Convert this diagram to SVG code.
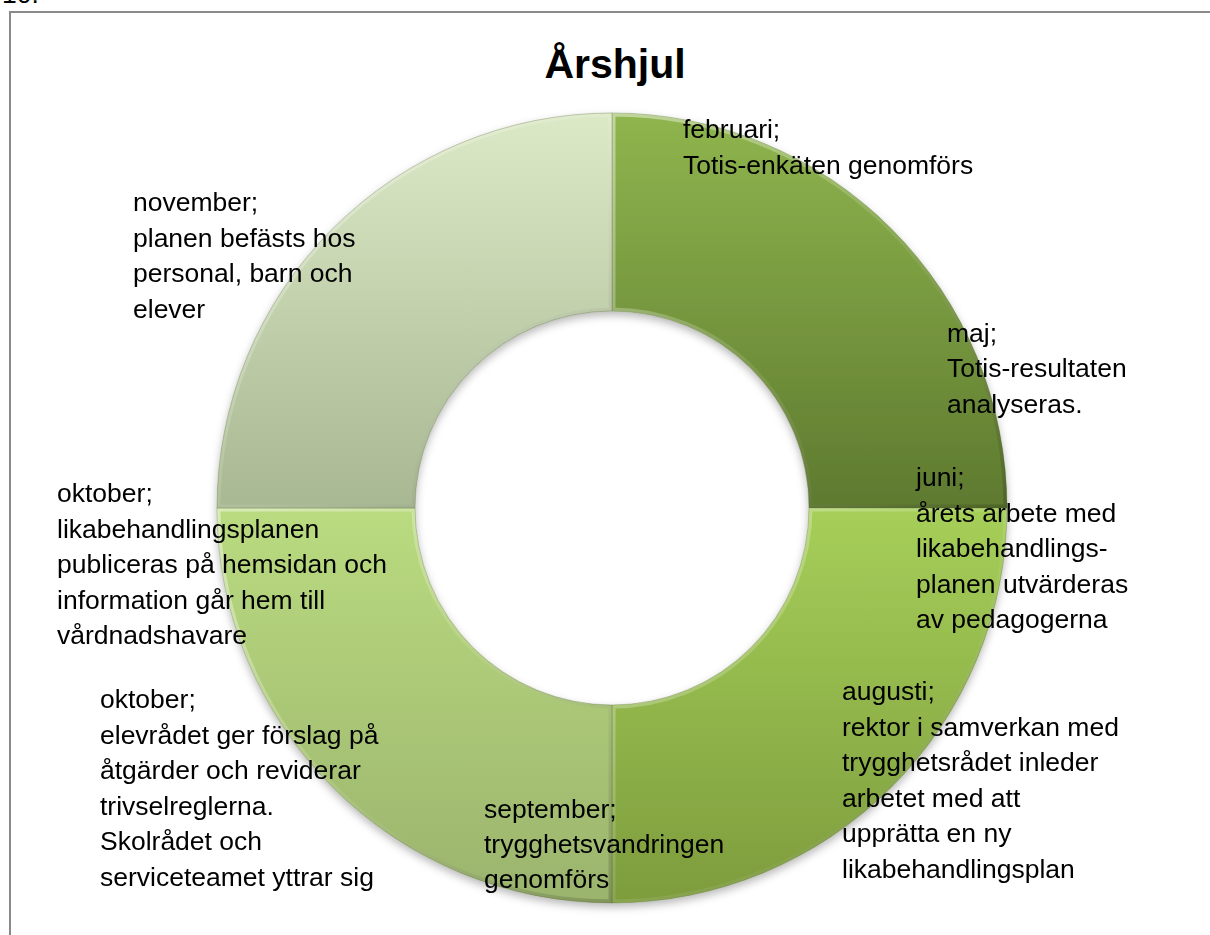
<svg xmlns="http://www.w3.org/2000/svg" width="1210" height="935" viewBox="0 0 1210 935">
<style>
.t{font-family:"Liberation Sans",Arial,sans-serif;font-size:26.5px;fill:#000}
.title{font-family:"Liberation Sans",Arial,sans-serif;font-size:41px;font-weight:bold;fill:#000}
.seg{stroke:#4f6328;stroke-opacity:0.35;stroke-width:1}
.bev{fill:none;stroke:url(#bevel);stroke-width:7}
</style>
<defs>
<linearGradient id="gTR" x1="0" y1="113" x2="0" y2="508" gradientUnits="userSpaceOnUse">
<stop offset="0" stop-color="#8fb54e"/><stop offset="1" stop-color="#5e7a2f"/>
</linearGradient>
<linearGradient id="gBR" x1="0" y1="508" x2="0" y2="903" gradientUnits="userSpaceOnUse">
<stop offset="0" stop-color="#a6cf59"/><stop offset="1" stop-color="#7d9c3d"/>
</linearGradient>
<linearGradient id="gBL" x1="0" y1="508" x2="0" y2="903" gradientUnits="userSpaceOnUse">
<stop offset="0" stop-color="#badb80"/><stop offset="1" stop-color="#9bb46d"/>
</linearGradient>
<linearGradient id="gTL" x1="0" y1="113" x2="0" y2="508" gradientUnits="userSpaceOnUse">
<stop offset="0" stop-color="#dce9c7"/><stop offset="1" stop-color="#a8b892"/>
</linearGradient>
<linearGradient id="bevel" x1="0" y1="0" x2="1" y2="1">
<stop offset="0" stop-color="#fff" stop-opacity="0.45"/>
<stop offset="0.5" stop-color="#fff" stop-opacity="0.1"/>
<stop offset="1" stop-color="#000" stop-opacity="0.18"/>
</linearGradient>
<path id="pTR" d="M612 113A395 395 0 0 1 1007 508L809 508A197 197 0 0 0 612 311Z"/>
<path id="pBR" d="M1007 508A395 395 0 0 1 612 903L612 705A197 197 0 0 0 809 508Z"/>
<path id="pBL" d="M612 903A395 395 0 0 1 217 508L415 508A197 197 0 0 0 612 705Z"/>
<path id="pTL" d="M217 508A395 395 0 0 1 612 113L612 311A197 197 0 0 0 415 508Z"/>
<clipPath id="cTR"><use href="#pTR"/></clipPath>
<clipPath id="cBR"><use href="#pBR"/></clipPath>
<clipPath id="cBL"><use href="#pBL"/></clipPath>
<clipPath id="cTL"><use href="#pTL"/></clipPath>
<filter id="sh" x="-10%" y="-10%" width="120%" height="120%">
<feDropShadow dx="0" dy="4" stdDeviation="4" flood-color="#000" flood-opacity="0.28"/>
</filter>
</defs>
<rect width="1210" height="935" fill="#fff"/>
<text class="t" x="2" y="3">10.</text>
<rect x="10" y="12" width="1220" height="940" fill="none" stroke="#8a8a8a" stroke-width="2"/>
<text class="title" x="615" y="78" text-anchor="middle">Årshjul</text>
<g filter="url(#sh)">
<g id="seg-feb-maj">
<use href="#pTR" class="seg" fill="url(#gTR)"/>
<use href="#pTR" class="bev" clip-path="url(#cTR)"/>
</g>
<g id="seg-jun-aug">
<use href="#pBR" class="seg" fill="url(#gBR)"/>
<use href="#pBR" class="bev" clip-path="url(#cBR)"/>
</g>
<g id="seg-sep-okt">
<use href="#pBL" class="seg" fill="url(#gBL)"/>
<use href="#pBL" class="bev" clip-path="url(#cBL)"/>
</g>
<g id="seg-nov">
<use href="#pTL" class="seg" fill="url(#gTL)"/>
<use href="#pTL" class="bev" clip-path="url(#cTL)"/>
</g>
</g>
<g id="label-februari">
<text class="t" x="683" y="138">februari;</text>
<text class="t" x="683" y="174">Totis-enkäten genomförs</text>
</g>
<g id="label-november">
<text class="t" x="133" y="211">november;</text>
<text class="t" x="133" y="247">planen befästs hos</text>
<text class="t" x="133" y="282">personal, barn och</text>
<text class="t" x="133" y="318">elever</text>
</g>
<g id="label-maj">
<text class="t" x="947" y="342">maj;</text>
<text class="t" x="947" y="377">Totis-resultaten</text>
<text class="t" x="947" y="413">analyseras.</text>
</g>
<g id="label-juni">
<text class="t" x="916" y="486">juni;</text>
<text class="t" x="916" y="522">årets arbete med</text>
<text class="t" x="916" y="557">likabehandlings-</text>
<text class="t" x="916" y="593">planen utvärderas</text>
<text class="t" x="916" y="628">av pedagogerna</text>
</g>
<g id="label-augusti">
<text class="t" x="842" y="700">augusti;</text>
<text class="t" x="842" y="736">rektor i samverkan med</text>
<text class="t" x="842" y="771">trygghetsrådet inleder</text>
<text class="t" x="842" y="807">arbetet med att</text>
<text class="t" x="842" y="842">upprätta en ny</text>
<text class="t" x="842" y="878">likabehandlingsplan</text>
</g>
<g id="label-september">
<text class="t" x="484" y="818">september;</text>
<text class="t" x="484" y="853">trygghetsvandringen</text>
<text class="t" x="484" y="888">genomförs</text>
</g>
<g id="label-oktober-1">
<text class="t" x="57" y="502">oktober;</text>
<text class="t" x="57" y="538">likabehandlingsplanen</text>
<text class="t" x="57" y="573">publiceras på hemsidan och</text>
<text class="t" x="57" y="609">information går hem till</text>
<text class="t" x="57" y="644">vårdnadshavare</text>
</g>
<g id="label-oktober-2">
<text class="t" x="100" y="708">oktober;</text>
<text class="t" x="100" y="744">elevrådet ger förslag på</text>
<text class="t" x="100" y="779">åtgärder och reviderar</text>
<text class="t" x="100" y="815">trivselreglerna.</text>
<text class="t" x="100" y="850">Skolrådet och</text>
<text class="t" x="100" y="886">serviceteamet yttrar sig</text>
</g>
</svg>
